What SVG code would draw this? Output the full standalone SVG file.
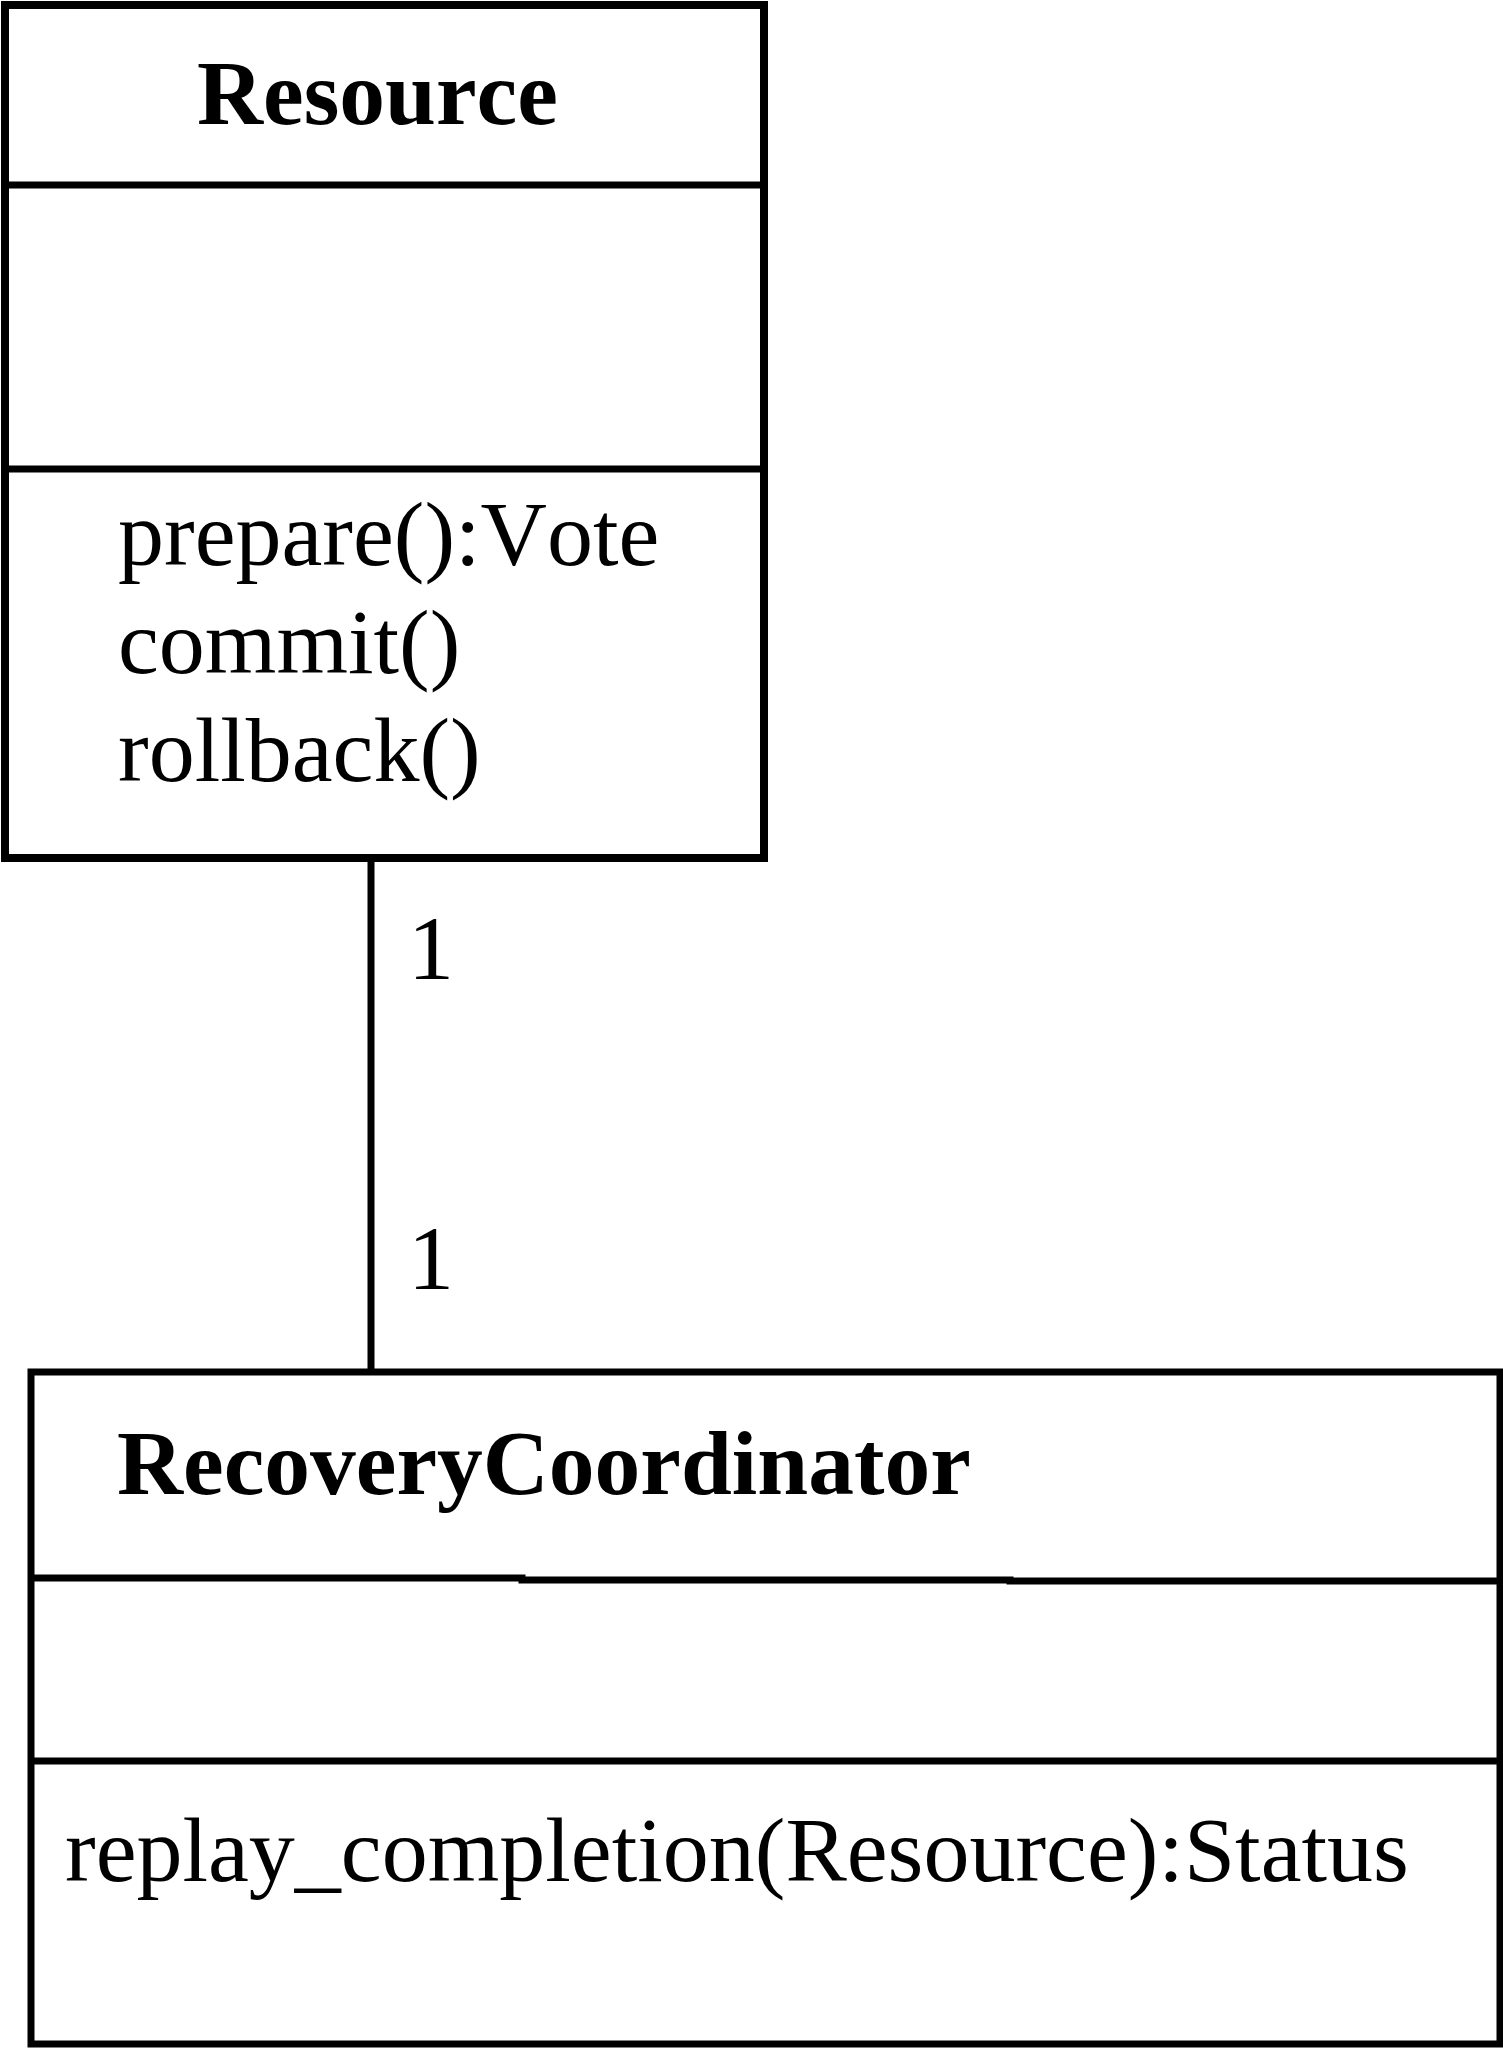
<svg xmlns="http://www.w3.org/2000/svg" width="1503" height="2048" viewBox="0 0 1503 2048">
<style>
text{font-kerning:none}
.t{font-family:"Liberation Serif","Times New Roman",serif;font-size:92px;fill:#000}
.b{font-family:"Liberation Serif","Times New Roman",serif;font-size:91.5px;font-weight:bold;fill:#000}
.box{fill:#fff;stroke:#000;stroke-width:8}
.box2{fill:#fff;stroke:#000;stroke-width:7}
.ln{stroke:#000;fill:none;stroke-width:7}
</style>
<rect width="1503" height="2048" fill="#fff"/>
<g id="connectors">
<line class="ln" x1="371" y1="858" x2="371" y2="1372" stroke-width="7"/>
<text class="t" x="408" y="979">1</text>
<text class="t" x="408" y="1289">1</text>
</g>
<g id="Resource">
<rect class="box" x="5" y="5" width="759" height="853"/>
<line class="ln" x1="5" y1="185" x2="764" y2="185" stroke-width="8"/>
<line class="ln" x1="5" y1="469" x2="764" y2="469" stroke-width="8"/>
<text class="b" x="197" y="124">Resource</text>
<text class="t" x="118" y="565">prepare():Vote</text>
<text class="t" x="118" y="673">commit()</text>
<text class="t" x="118" y="781">rollback()</text>
</g>
<g id="RecoveryCoordinator">
<rect class="box2" x="31" y="1372" width="1469" height="672"/>
<polyline class="ln" points="31,1578 522,1578 522,1580 1010,1580 1010,1581 1500,1581"/>
<line class="ln" x1="31" y1="1761" x2="1500" y2="1761"/>
<text class="b" x="117" y="1494">RecoveryCoordinator</text>
<text class="t" x="65" y="1881">replay_completion(Resource):Status</text>
</g>
</svg>
